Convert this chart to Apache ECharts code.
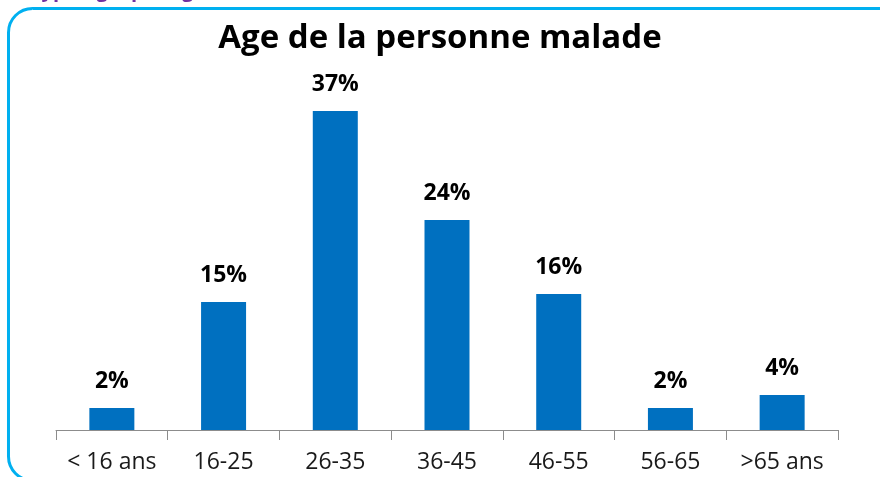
<!DOCTYPE html>
<html>
<head>
<meta charset="utf-8">
<script src="https://cdn.jsdelivr.net/npm/echarts@6/dist/echarts.min.js"></script>
<style>
html,body{margin:0;padding:0;background:#fff;}
#c{width:880px;height:477px;}
</style>
</head>
<body>
<div id="c"></div>
<script>
const categories = ['< 16 ans', '16-25', '26-35', '36-45', '46-55', '56-65', '>65 ans'];
const values = [2.55, 14.85, 37, 24.36, 15.78, 2.55, 4.06];
const labelTexts = ['2%', '15%', '37%', '24%', '16%', '2%', '4%'];
const titleText = 'Age de la personne malade';

const chart = echarts.init(document.getElementById('c'), null, {renderer: 'canvas'});
chart.setOption({
  animation: false,
  backgroundColor: '#ffffff',
  title: {
    text: titleText,
    left: 'center',
    top: 17,
    textStyle: {fontFamily: 'Open Sans', fontWeight: 'bold', fontSize: 33, color: '#000'}
  },
  graphic: [
    {
      type: 'rect',
      shape: {x: 8.5, y: 8.5, width: 900, height: 472, r: 24},
      style: {fill: 'none', stroke: '#00B0F0', lineWidth: 3},
      silent: true
    },
    {
      type: 'text',
      left: 30,
      top: -19,
      style: {text: 'Typologie par âge', fill: '#7030A0', font: 'bold 20px "Open Sans"'},
      silent: true
    }
  ],
  grid: {left: 56, right: 42, top: 85, bottom: 47},
  xAxis: {
    type: 'category',
    data: categories,
    axisLine: {lineStyle: {color: '#8c8c8c', width: 1}},
    axisTick: {show: true, length: 10, lineStyle: {color: '#8c8c8c'}},
    axisLabel: {interval: 0, hideOverlap: false, fontFamily: 'Open Sans', fontSize: 23, color: '#1a1a1a', margin: 21}
  },
  yAxis: {
    type: 'value',
    min: 0, max: 40,
    show: false,
    splitLine: {show: false}
  },
  series: [{
    type: 'bar',
    data: values,
    barWidth: 45,
    itemStyle: {color: '#0070C0'},
    label: {
      show: true,
      position: 'top',
      distance: 15,
      formatter: p => labelTexts[p.dataIndex],
      fontFamily: 'Open Sans',
      fontWeight: 'bold',
      fontSize: 23,
      color: '#000'
    }
  }]
});
</script>
</body>
</html>
